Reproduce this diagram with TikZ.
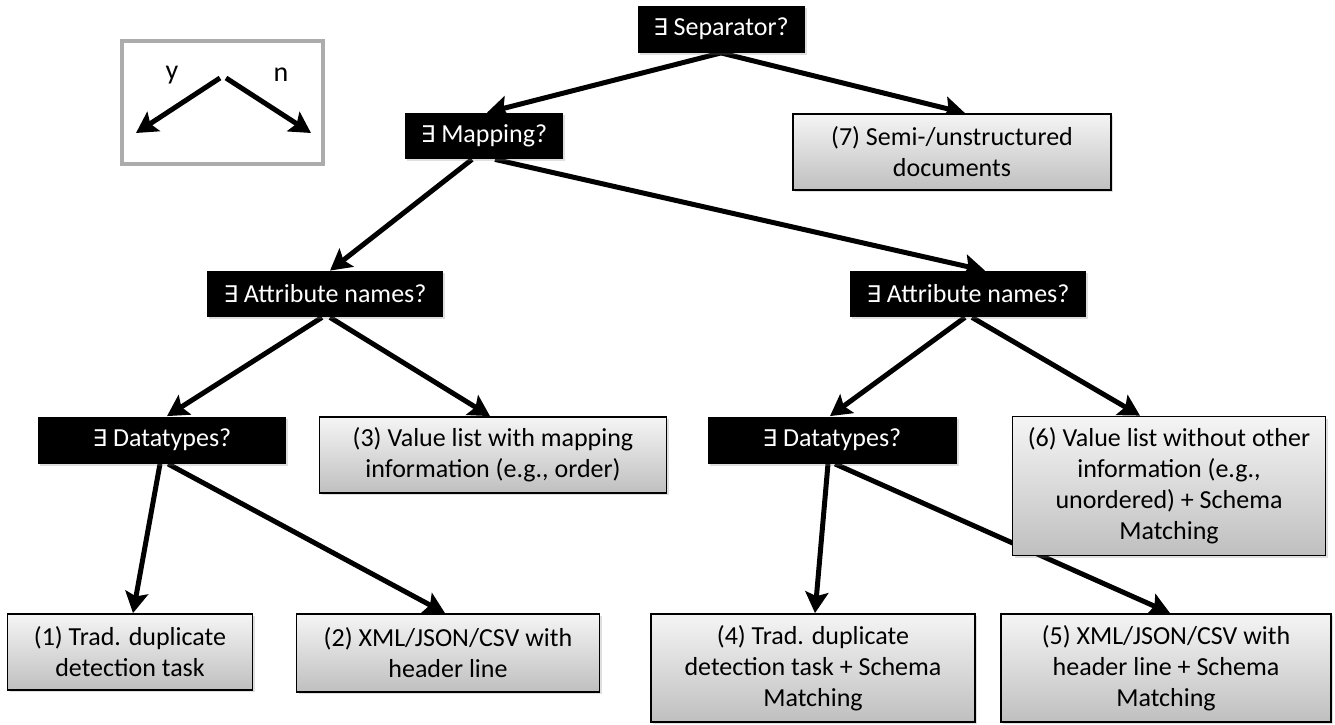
\documentclass[tikz,border=0pt]{standalone}
\usepackage{fontspec}
\setmainfont{Carlito}
\newfontfamily\symfont{DejaVu Sans}
\usetikzlibrary{arrows.meta, calc, shadows, backgrounds}
\newcommand{\ex}{{\symfont\fontsize{11.5}{12}\selectfont ∃}}

\begin{document}
\begin{tikzpicture}[
    x=0.5pt, y=-0.5pt,
    every node/.style={font=\fontsize{13}{15.5}\selectfont, inner sep=0pt, align=center},
    quest/.style={fill=black, text=white, drop shadow={opacity=0.25, shadow xshift=1pt, shadow yshift=-1pt}},
    leaf/.style={draw=black, line width=0.9pt, top color=gray!8, bottom color=gray!50,
                 drop shadow={opacity=0.25, shadow xshift=1pt, shadow yshift=-1pt}},
    arr/.style={-{Stealth[length=10.5pt, width=11.5pt, inset=2pt]}, line width=2.5pt, black}
  ]
  \useasboundingbox (0,0) rectangle (1335,724);

  % legend
  \node[draw=gray!65, line width=2pt, minimum width=100.5pt, minimum height=61.5pt] (legend) at (222.5,102.5) {};
  \coordinate (ltop1) at (220,78);
  \coordinate (ltop2) at (226,78);
  \coordinate (lyes) at (136,133);
  \coordinate (lno) at (311,133);
  \draw[arr] (ltop1) -- (lyes);
  \draw[arr] (ltop2) -- (lno);
  \node (ylbl) at (172,75) {\fontsize{14}{15}\selectfont y};
  \node (nlbl) at (281,75) {\fontsize{14}{15}\selectfont n};

  % questions
  \node[quest, minimum width=83.5pt, minimum height=23.5pt] (sep) at (721,29) {\ex\ Separator?};
  \node[quest, minimum width=79pt, minimum height=23pt] (map) at (484,136) {\ex\ Mapping?};
  \node[quest, minimum width=118pt, minimum height=23pt] (attrl) at (325,294) {\ex\ Attribute names?};
  \node[quest, minimum width=118pt, minimum height=23pt] (attrr) at (968,294) {\ex\ Attribute names?};
  \node[quest, minimum width=124pt, minimum height=23.5pt] (dtl) at (162,440) {\ex\ Datatypes?};
  \node[quest, minimum width=124.5pt, minimum height=23.5pt] (dtr) at (832,440) {\ex\ Datatypes?};

  % leaves
  \node[leaf, minimum width=159pt, minimum height=38pt] (semi) at (952,152) {(7) Semi-/unstructured\\documents};
  \node[leaf, minimum width=173.5pt, minimum height=38pt] (vmap) at (493,455) {(3) Value list with mapping\\information (e.g., order)};
  \node[leaf, minimum width=156.5pt, minimum height=69.5pt] (vnone) at (1169,486) {(6) Value list without other\\information (e.g.,\\unordered) + Schema\\Matching};
  \node[leaf, minimum width=122.5pt, minimum height=38pt] (trad) at (130,652) {(1) Trad. duplicate\\detection task};
  \node[leaf, minimum width=151.5pt, minimum height=39pt] (xml) at (448,653) {(2) XML/JSON/CSV with\\header line};
  \node[leaf, minimum width=162pt, minimum height=54pt] (tradsm) at (813,668) {(4) Trad. duplicate\\detection task + Schema\\Matching};
  \node[leaf, minimum width=165pt, minimum height=54pt] (xmlsm) at (1166,668) {(5) XML/JSON/CSV with\\header line + Schema\\Matching};

  % connectors behind the boxes
  \begin{scope}[on background layer]
    \draw[arr] (sep.south) -- ($(map.north)+(3,0)$);
    \draw[arr] (sep.south) -- ($(semi.north)+(13,0)$);
    \draw[arr] ($(map.south)+(-12,0)$) -- ($(attrl.north)+(5,0)$);
    \draw[arr] ($(map.south)+(11,0)$) -- ($(attrr.north)+(17,0)$);
    \draw[arr] ($(attrl.south)+(-3,0)$) -- ($(dtl.north)+(5,0)$);
    \draw[arr] ($(attrl.south)+(5,0)$) -- ($(vmap.north)+(-3,0)$);
    \draw[arr] ($(attrr.south)+(-3,0)$) -- ($(dtr.north)+(-2,0)$);
    \draw[arr] ($(attrr.south)+(4,0)$) -- ($(vnone.north)+(-29,0)$);
    \draw[arr] ($(dtl.south)+(-2,0)$) -- ($(trad.north)+(3,0)$);
    \draw[arr] ($(dtl.south)+(6,0)$) -- ($(xml.north)+(-3,0)$);
    \draw[arr] ($(dtr.south)+(-4,0)$) -- ($(tradsm.north)+(2,0)$);
    \draw[arr] ($(dtr.south)+(3,0)$) -- ($(xmlsm.north)+(4,0)$);
  \end{scope}
\end{tikzpicture}
\end{document}
